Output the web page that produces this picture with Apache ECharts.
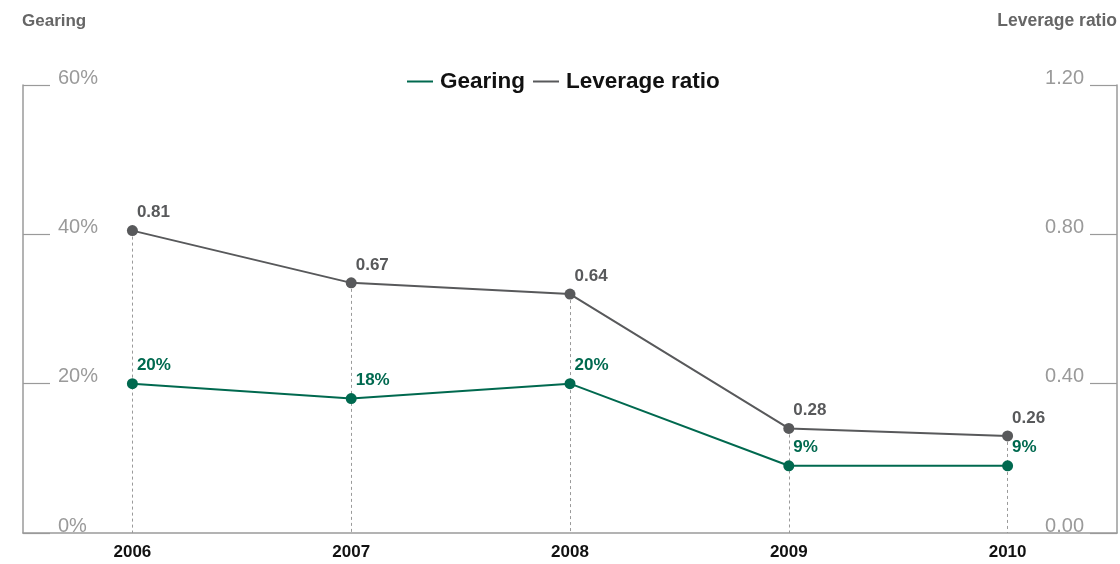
<!DOCTYPE html>
<html>
<head>
<meta charset="utf-8">
<script src="https://cdn.jsdelivr.net/npm/echarts@6/dist/echarts.min.js"></script>
<style>
  html, body { margin: 0; padding: 0; background: #fff; }
  #chart { width: 1120px; height: 564px; }
</style>
</head>
<body>
<div id="chart"></div>
<script>
// Years on the category axis
const years = ['2006', '2007', '2008', '2009', '2010'];
// Gearing (%), left axis
const gearing = [20, 18, 20, 9, 9];
// Leverage ratio, right axis
const leverage = [0.81, 0.67, 0.64, 0.28, 0.26];
// Axis tick labels
const gearingTicks = ['0%', '20%', '40%', '60%'];
const leverageTicks = ['0.00', '0.40', '0.80', '1.20'];

const GREEN = '#00694f';
const GREY = '#58595b';
const AXIS = '#9a9a9a';
const FONT = '"Liberation Sans", Arial, sans-serif';

// Dashed drop lines from the upper point of each year down to the baseline
const dropLines = years.map((y, i) => [
  { coord: [i, leverage[i]] },
  { coord: [i, 0] }
]);

const chart = echarts.init(document.getElementById('chart'));

chart.setOption({
  animation: false,
  textStyle: { fontFamily: FONT },
  legend: {
    top: 70,
    left: 407,
    padding: 0,
    itemWidth: 26,
    itemHeight: 2,
    itemGap: 8,
    icon: 'rect',
    textStyle: { fontSize: 22.5, color: '#111', fontFamily: FONT, fontWeight: 'bold', padding: [0, 0, 0, 2] },
    data: ['Gearing', 'Leverage ratio']
  },
  grid: { left: 23, right: 2, top: 85, bottom: 31, containLabel: false },
  xAxis: {
    type: 'category',
    data: years,
    boundaryGap: true,
    axisLine: { lineStyle: { color: AXIS, width: 1.5 } },
    axisTick: { show: false },
    axisLabel: { color: '#111', fontSize: 17, fontWeight: 'bold', margin: 11, fontFamily: FONT },
    splitLine: { show: false }
  },
  yAxis: [
    {
      type: 'value',
      min: 0, max: 60, interval: 20,
      name: 'Gearing',
      nameLocation: 'end',
      nameGap: 55,
      nameTextStyle: { align: 'left', color: '#666', fontSize: 17, fontWeight: 'bold', fontFamily: FONT, padding: [0, 0, 0, -1] },
      axisLine: { show: true, lineStyle: { color: AXIS, width: 1.5 } },
      axisTick: { show: true, inside: true, length: 27, lineStyle: { color: AXIS, width: 1.2 } },
      axisLabel: {
        inside: true, margin: 35, color: AXIS, fontSize: 20, fontFamily: FONT,
        verticalAlign: 'bottom', padding: [0, 0, -3, 0],
        formatter: (v) => gearingTicks[v / 20]
      },
      splitLine: { show: false }
    },
    {
      type: 'value',
      min: 0, max: 1.2, interval: 0.4,
      name: 'Leverage ratio',
      nameLocation: 'end',
      nameGap: 55,
      nameTextStyle: { align: 'right', color: '#666', fontSize: 17.5, fontWeight: 'bold', fontFamily: FONT },
      position: 'right',
      axisLine: { show: true, lineStyle: { color: AXIS, width: 1.5 } },
      axisTick: { show: true, inside: true, length: 27, lineStyle: { color: AXIS, width: 1.2 } },
      axisLabel: {
        inside: true, margin: 33, color: AXIS, fontSize: 20, fontFamily: FONT,
        verticalAlign: 'bottom', padding: [0, 0, -3, 0],
        formatter: (v) => leverageTicks[Math.round(v / 0.4)]
      },
      splitLine: { show: false }
    }
  ],
  series: [
    {
      name: 'Leverage ratio',
      type: 'line',
      yAxisIndex: 1,
      data: leverage,
      color: GREY,
      symbol: 'circle',
      symbolSize: 11,
      lineStyle: { width: 2, color: GREY },
      itemStyle: { color: GREY },
      label: {
        show: true,
        position: [10, -21],
        color: GREY,
        fontSize: 17,
        fontWeight: 'bold',
        fontFamily: FONT,
        formatter: (p) => p.value.toFixed(2)
      },
      markLine: {
        silent: true,
        symbol: 'none',
        z: 1,
        label: { show: false },
        lineStyle: { color: AXIS, type: [3, 3], width: 1 },
        data: dropLines
      },
      z: 3
    },
    {
      name: 'Gearing',
      type: 'line',
      yAxisIndex: 0,
      data: gearing,
      color: GREEN,
      symbol: 'circle',
      symbolSize: 11,
      lineStyle: { width: 2, color: GREEN },
      itemStyle: { color: GREEN },
      label: {
        show: true,
        position: [10, -21],
        color: GREEN,
        fontSize: 17,
        fontWeight: 'bold',
        fontFamily: FONT,
        formatter: (p) => p.value + '%'
      },
      z: 4
    }
  ]
});
</script>
</body>
</html>
